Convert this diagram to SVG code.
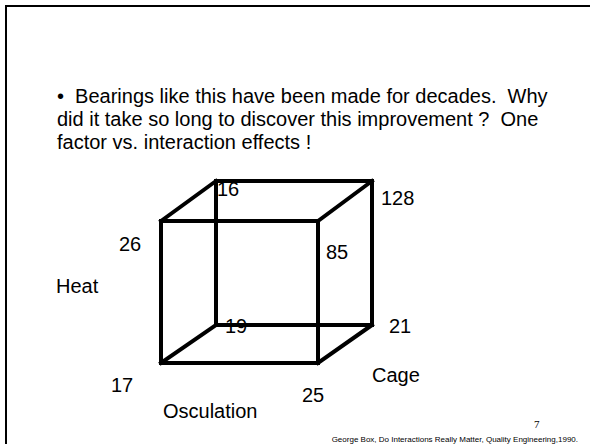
<svg xmlns="http://www.w3.org/2000/svg" width="590" height="444" viewBox="0 0 590 444">
<style>
.t{font-family:"Liberation Sans",Arial,sans-serif;font-size:20px;fill:#000;white-space:pre}
.e{stroke:#000;stroke-width:4;stroke-linecap:square;fill:none}
</style>
<rect width="590" height="444" fill="#fff"/>
<path d="M6,444 V6 H590" fill="none" stroke="#000" stroke-width="2"/>
<g id="text" xml:space="preserve">
<text class="t" x="57" y="103">•  Bearings like this have been made for decades.  Why</text>
<text class="t" x="57" y="126">did it take so long to discover this improvement ?  One</text>
<text class="t" x="57" y="149">factor vs. interaction effects !</text>
</g>
<g id="connectors">
<path class="e" d="M161,221 H318 V363 H161 Z"/>
<path class="e" d="M216,181 H372 V325 H216 Z"/>
<path class="e" d="M161,221 L216,181 M318,221 L372,181 M318,363 L372,325 M161,363 L216,325"/>
</g>
<g id="n16"><text class="t" x="217" y="196">16</text></g>
<g id="n128"><text class="t" x="381" y="205">128</text></g>
<g id="n26"><text class="t" x="119" y="251">26</text></g>
<g id="n85"><text class="t" x="326" y="259">85</text></g>
<g id="nHeat"><text class="t" x="56" y="293">Heat</text></g>
<g id="n19"><text class="t" x="225" y="333">19</text></g>
<g id="n21"><text class="t" x="389" y="333">21</text></g>
<g id="nCage"><text class="t" x="372" y="382">Cage</text></g>
<g id="n17"><text class="t" x="111" y="392">17</text></g>
<g id="n25"><text class="t" x="302" y="402">25</text></g>
<g id="nOsc"><text class="t" x="163" y="418">Osculation</text></g>
<g id="footer">
<text x="534" y="428" font-family="'Liberation Serif',serif" font-size="11">7</text>
<text x="578" y="442" text-anchor="end" font-family="'Liberation Sans',Arial,sans-serif" font-size="8">George Box, Do Interactions Really Matter, Quality Engineering,1990.</text>
</g>
</svg>
